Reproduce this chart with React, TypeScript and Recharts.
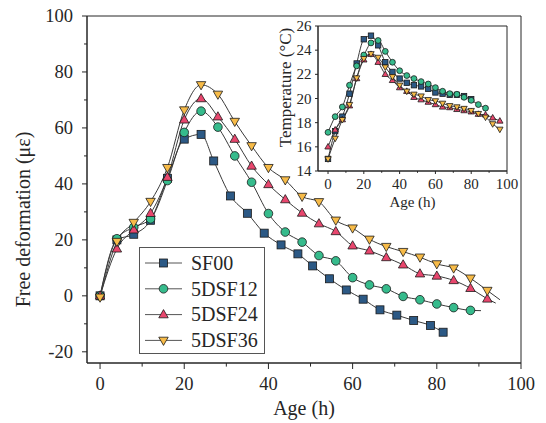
import React from "react";
import { LineChart, Line, XAxis, YAxis, Legend, ReferenceArea } from "recharts";

const FONT = '"Liberation Serif", "Times New Roman", serif';
const INK = "#262626";

// free deformation, main plot (age in h, strain in microstrain)
const sf00Age = [0, 4, 8, 12, 16, 20, 24, 27, 31, 35, 39, 43, 47, 50.5, 54.5, 58.5, 62.5, 66.5, 70.5, 74.5, 78.5, 81.5];
const sf00Strain = [0, 20, 22, 27, 42, 56, 57.7, 48.2, 35.7, 29.5, 22.4, 18.2, 15, 10.7, 6.1, 2.1, -1.2, -5, -6.9, -8.8, -10.6, -13];

const dsf12Age = [0, 4, 8, 12, 16, 20, 24, 28, 32, 36, 40, 44, 48, 52, 56, 60, 64, 68, 72, 76, 80, 84, 88, 90.5];
const dsf12Strain = [0, 20.4, 24.5, 27.5, 41.2, 58.4, 66, 60.3, 50, 40.6, 29.4, 22.8, 19.2, 14.4, 12.5, 6.5, 3.9, 2.5, -0.2, -1.4, -2.9, -4.2, -5.2, -5.3];

const dsf24Age = [0, 4, 8, 12, 16, 20, 24, 28, 32, 36, 40, 44, 48, 52, 56, 60, 64, 68, 72, 76, 80, 84, 88, 92, 94];
const dsf24Strain = [0, 16.8, 23.6, 29.5, 42.4, 62.9, 70.5, 64, 56, 46.4, 39.8, 34.4, 29.6, 25.8, 23, 17.9, 16.1, 13.7, 11.1, 7.9, 7.1, 5.5, 2.7, -1.1, -2.6];

const dsf36Age = [0, 4, 8, 12, 16, 20, 24, 28, 32, 36, 40, 44, 48, 52, 56, 60, 64, 68, 72, 76, 80, 84, 88, 92, 95];
const dsf36Strain = [-0.5, 19.4, 26.2, 33.7, 45.8, 66.4, 75.4, 72, 62.3, 53.6, 45.8, 41.4, 35.5, 33.6, 27, 24.2, 20.2, 17.6, 15.8, 13.8, 11.4, 9.9, 6.3, 1.9, -1.4];

// temperature, inset (age in h, degC)
const sf00TempAge = [0, 4, 8, 12, 16, 20, 24, 28, 32, 36, 40, 44, 48, 52, 56, 60, 64, 68, 72, 76, 80];
const sf00Temp = [15.0, 17.3, 18.5, 20.4, 22.9, 24.9, 25.2, 24.4, 23.0, 22.2, 21.65, 21.3, 21.1, 21.0, 20.8, 20.5, 20.4, 20.3, 20.3, 20.2, 19.95];

const dsf12TempAge = [0, 4, 8, 12, 16, 20, 24, 28, 32, 36, 40, 44, 48, 52, 56, 60, 64, 68, 72, 76, 80, 84, 88];
const dsf12Temp = [17.2, 18.5, 19.3, 21.1, 22.7, 23.6, 24.6, 24.8, 23.9, 23.0, 22.3, 21.9, 21.65, 21.4, 21.2, 20.9, 20.6, 20.4, 20.35, 20.1, 19.85, 19.5, 19.2];

const dsf24TempAge = [0, 4, 8, 12, 16, 20, 24, 28, 32, 36, 40, 44, 48, 52, 56, 60, 64, 68, 72, 76, 80, 84, 88, 92, 96];
const dsf24Temp = [16.0, 17.4, 18.25, 19.4, 21.65, 23.2, 23.66, 23.0, 22.0, 21.5, 20.9, 20.6, 20.1, 19.9, 19.7, 19.5, 19.3, 19.25, 19.1, 19.0, 18.9, 18.7, 18.65, 18.4, 18.14];

const dsf36TempAge = [0, 4, 8, 12, 16, 20, 24, 28, 32, 36, 40, 44, 48, 52, 56, 60, 64, 68, 72, 76, 80, 84, 88, 92, 96];
const dsf36Temp = [15.0, 16.7, 18.25, 19.5, 21.7, 23.3, 23.7, 23.4, 22.6, 21.8, 21.1, 20.6, 20.35, 20.2, 19.9, 19.8, 19.6, 19.4, 19.3, 19.17, 19.0, 18.75, 18.45, 17.9, 17.45];

const strainTicksY = [-20, -10, 0, 10, 20, 30, 40, 50, 60, 70, 80, 90, 100];
const ageTicks = [0, 10, 20, 30, 40, 50, 60, 70, 80, 90, 100];
const tempTicks = [14, 16, 18, 20, 22, 24, 26];

type Shape = "square" | "circle" | "up" | "down";

const zip = (xs: number[], ys: number[]) => xs.map((x, i) => ({ age: x, value: ys[i] }));

const SERIES: { name: string; fill: string; shape: Shape; main: any[]; marks: number; temp: any[] }[] = [
  { name: "SF00", fill: "#2c5985", shape: "square", main: zip(sf00Age, sf00Strain), marks: sf00Age.length, temp: zip(sf00TempAge, sf00Temp) },
  { name: "5DSF12", fill: "#36bb8c", shape: "circle", main: zip(dsf12Age, dsf12Strain), marks: dsf12Age.length - 1, temp: zip(dsf12TempAge, dsf12Temp) },
  { name: "5DSF24", fill: "#e8466d", shape: "up", main: zip(dsf24Age, dsf24Strain), marks: dsf24Age.length - 1, temp: zip(dsf24TempAge, dsf24Temp) },
  { name: "5DSF36", fill: "#f7bb48", shape: "down", main: zip(dsf36Age, dsf36Strain), marks: dsf36Age.length - 1, temp: zip(dsf36TempAge, dsf36Temp) },
];

function Marker({ cx, cy, shape, fill, s }: { cx: number; cy: number; shape: Shape; fill: string; s: number }) {
  const common = { fill, stroke: "#1a1a1a", strokeWidth: 0.8 };
  if (shape === "square") return <rect x={cx - s} y={cy - s} width={2 * s} height={2 * s} {...common} />;
  if (shape === "circle") return <circle cx={cx} cy={cy} r={s * 1.08} {...common} />;
  const k = shape === "up" ? 1 : -1;
  const pts = `${cx},${cy - k * s * 1.25} ${cx + s * 1.18},${cy + k * s * 0.8} ${cx - s * 1.18},${cy + k * s * 0.8}`;
  return <polygon points={pts} {...common} />;
}

const dotFor = (shape: Shape, fill: string, s: number, marks: number) => (p: any) => {
  if (p.index >= marks || p.cx == null) return <g key={`n${p.index}`} />;
  return (
    <g key={`d${p.index}`}>
      <Marker cx={p.cx} cy={p.cy} shape={shape} fill={fill} s={s} />
    </g>
  );
};

const yTick = (font: number, step: number, len: number, gap: number) => (p: any) => {
  const v = p.payload.value;
  const major = Math.abs(v % step) < 1e-6;
  return (
    <g>
      <line x1={p.x} x2={p.x - (major ? len : len * 0.6)} y1={p.y} y2={p.y} stroke={INK} />
      {major && (
        <text x={p.x - gap} y={p.y} dy="0.34em" textAnchor="end" fontSize={font} fontFamily={FONT} fill={INK}>
          {v}
        </text>
      )}
    </g>
  );
};

const xTick = (font: number, step: number, len: number, gap: number) => (p: any) => {
  const v = p.payload.value;
  const major = Math.abs(v % step) < 1e-6;
  return (
    <g>
      <line x1={p.x} x2={p.x} y1={p.y} y2={p.y + (major ? len : len * 0.6)} stroke={INK} />
      {major && (
        <text x={p.x} y={p.y + gap} dy="0.34em" textAnchor="middle" fontSize={font} fontFamily={FONT} fill={INK}>
          {v}
        </text>
      )}
    </g>
  );
};

const vTitle = (text: string, font: number, dx: number, shift: number) => (p: any) => {
  const vb = p.viewBox;
  const cx = vb.x + dx;
  const cy = vb.y + vb.height / 2 + shift;
  return (
    <text x={cx} y={cy} dy="0.34em" transform={`rotate(-90 ${cx} ${cy})`} textAnchor="middle" fontSize={font} fontFamily={FONT} fill={INK}>
      {text}
    </text>
  );
};

const hTitle = (text: string, font: number, dy: number) => (p: any) => {
  const vb = p.viewBox;
  return (
    <text x={vb.x + vb.width / 2} y={vb.y + dy} dy="0.34em" textAnchor="middle" fontSize={font} fontFamily={FONT} fill={INK}>
      {text}
    </text>
  );
};

function LegendBox({ payload }: any) {
  // keep the plotting order (SF00 first), not the alphabetical one
  const items = SERIES.filter((s) => (payload || []).some((e: any) => e.value === s.name));
  return (
    <svg width={126} height={107} style={{ display: "block" }}>
      <rect x={0.5} y={0.5} width={125} height={106} fill="#fff" stroke="#555" />
      {items.map((s, i) => {
        const y = 16 + i * 25.8;
        return (
          <g key={s.name}>
            <line x1={6} x2={43} y1={y} y2={y} stroke="#555" />
            <Marker cx={24.5} cy={y} shape={s.shape} fill={s.fill} s={4} />
            <text x={52} y={y} dy="0.34em" fontSize={20} fontFamily={FONT} fill={INK}>
              {s.name}
            </text>
          </g>
        );
      })}
    </svg>
  );
}

const MAIN_X: [number, number] = [-3.1, 100];
const MAIN_Y: [number, number] = [-24, 100];
const INSET_X: [number, number] = [-5.6, 100];
const INSET_Y: [number, number] = [14, 26];

export default function App() {
  return (
    <div style={{ position: "absolute", left: 0, top: 0, width: 546, height: 423, background: "#fff" }}>
      <LineChart width={546} height={423} margin={{ top: 16, right: 25, bottom: 0, left: 0 }}>
        <XAxis
          type="number"
          dataKey="age"
          domain={MAIN_X}
          ticks={ageTicks}
          interval={0}
          allowDataOverflow
          height={60}
          tickSize={0}
          tickMargin={0}
          tickLine={false}
          axisLine={{ stroke: INK }}
          tick={xTick(18.5, 20, 6, 21)}
          label={{ content: hTitle("Age (h)", 20, 45) }}
        />
        <YAxis
          type="number"
          domain={MAIN_Y}
          ticks={strainTicksY}
          interval={0}
          allowDataOverflow
          width={87}
          tickSize={0}
          tickMargin={0}
          tickLine={false}
          axisLine={{ stroke: INK }}
          tick={yTick(18.5, 20, 5, 14)}
          label={{ content: vTitle("Free deformation (με)", 20, 23, 30) }}
        />
        <ReferenceArea x1={MAIN_X[0]} x2={MAIN_X[1]} y1={MAIN_Y[0]} y2={MAIN_Y[1]} fill="none" stroke={INK} strokeOpacity={1} />
        {SERIES.map((s) => (
          <Line
            key={s.name}
            name={s.name}
            data={s.main}
            dataKey="value"
            type="monotone"
            stroke="#3a3a3a"
            strokeWidth={1}
            dot={dotFor(s.shape, s.fill, 4, s.marks)}
            activeDot={false}
            isAnimationActive={false}
          />
        ))}
        <Legend
          layout="vertical"
          align="center"
          verticalAlign="middle"
          wrapperStyle={{ left: 139, top: 247, width: 126, height: 107 }}
          content={<LegendBox />}
        />
      </LineChart>

      <div style={{ position: "absolute", left: 270, top: 18, width: 250, height: 200 }}>
        <LineChart width={250} height={200} margin={{ top: 8, right: 13, bottom: 0, left: 0 }}>
          <XAxis
            type="number"
            dataKey="age"
            domain={INSET_X}
            ticks={ageTicks}
            interval={0}
            allowDataOverflow
            height={47}
            tickSize={0}
            tickMargin={0}
            tickLine={false}
            axisLine={{ stroke: INK }}
            tick={xTick(15, 20, 3, 12.6)}
            label={{ content: hTitle("Age (h)", 15, 31) }}
          />
          <YAxis
            type="number"
            domain={INSET_Y}
            ticks={tempTicks}
            interval={0}
            allowDataOverflow
            width={48}
            tickSize={0}
            tickMargin={0}
            tickLine={false}
            axisLine={{ stroke: INK }}
            tick={yTick(15, 2, 3, 6.6)}
            label={{ content: vTitle("Temperature (°C)", 17, 15, -11) }}
          />
          <ReferenceArea x1={INSET_X[0]} x2={INSET_X[1]} y1={INSET_Y[0]} y2={INSET_Y[1]} fill="none" stroke={INK} strokeOpacity={1} />
          {SERIES.map((s) => (
            <Line
              key={s.name}
              name={s.name}
              data={s.temp}
              dataKey="value"
              type="monotone"
              stroke="#3a3a3a"
              strokeWidth={1}
              dot={dotFor(s.shape, s.fill, 2.7, s.temp.length)}
              activeDot={false}
              isAnimationActive={false}
            />
          ))}
        </LineChart>
      </div>
    </div>
  );
}
